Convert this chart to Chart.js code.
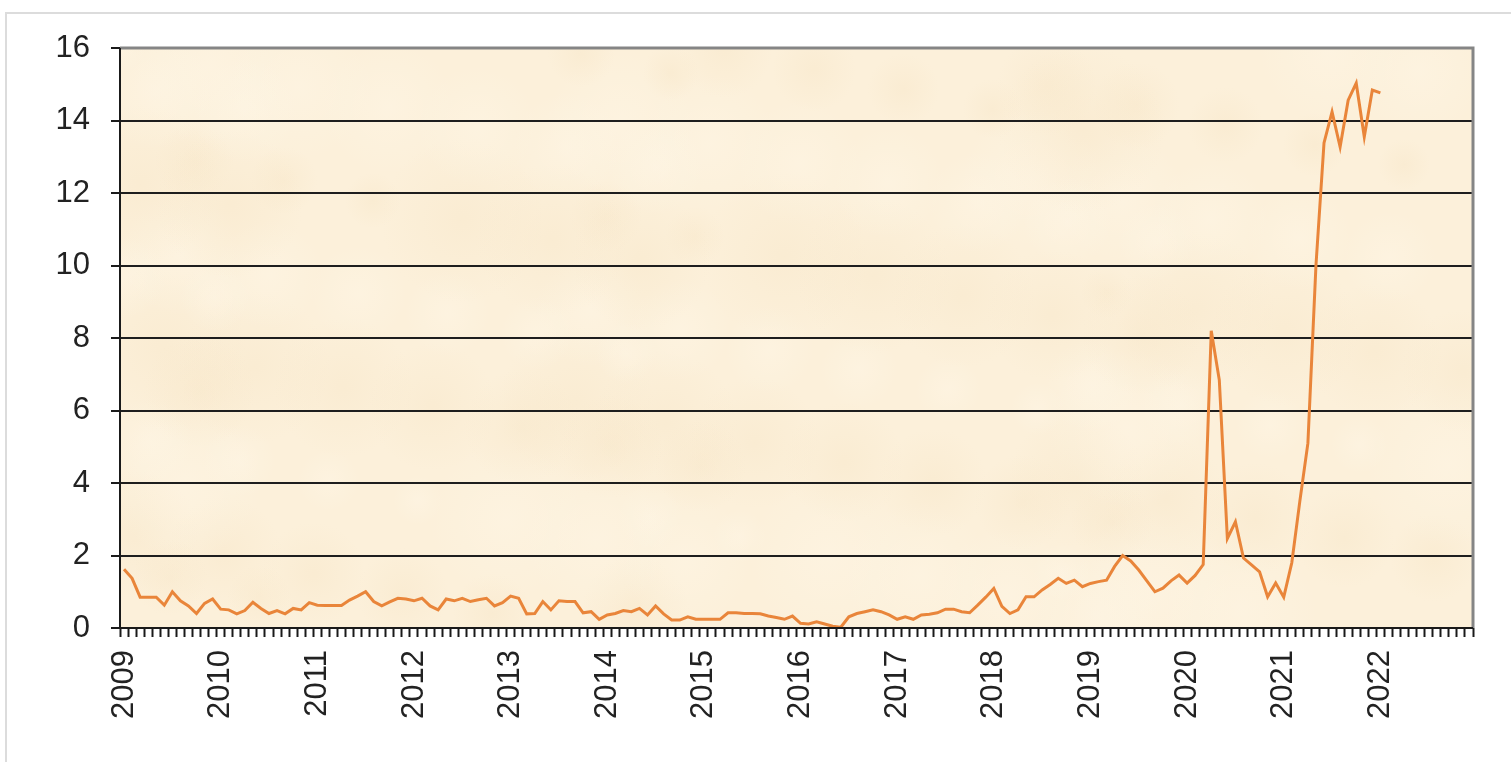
<!DOCTYPE html>
<html>
<head>
<meta charset="utf-8">
<script src="https://cdn.jsdelivr.net/npm/chart.js@4/dist/chart.umd.min.js"></script>
<style>
  html, body { margin: 0; padding: 0; background: #fff; }
  body { width: 1511px; height: 762px; overflow: hidden; position: relative; }
  #frame { position: absolute; left: 5px; top: 12px; width: 1520px; height: 770px; border: 2px solid #dcdcdc; box-sizing: border-box; }
  #wrap { position: absolute; left: 0; top: 0; width: 1511px; height: 762px; }
</style>
</head>
<body>
<div id="frame"></div>
<div id="wrap"><canvas id="chart" width="1511" height="762"></canvas></div>
<script>
// Years on the axis (one category per month, Jan 2009 - Dec 2022)
const years = [2009, 2010, 2011, 2012, 2013, 2014, 2015, 2016, 2017, 2018, 2019, 2020, 2021, 2022];
const monthsPerYear = 12;

// Monthly values, one row per year
const v2009 = [1.62, 1.37, 0.85, 0.85, 0.85, 0.63, 1.0, 0.75, 0.61, 0.4, 0.68, 0.8];
const v2010 = [0.52, 0.5, 0.39, 0.48, 0.71, 0.54, 0.4, 0.48, 0.39, 0.54, 0.5, 0.7];
const v2011 = [0.63, 0.62, 0.62, 0.62, 0.77, 0.88, 1.0, 0.73, 0.61, 0.72, 0.82, 0.8];
const v2012 = [0.75, 0.82, 0.61, 0.5, 0.8, 0.75, 0.82, 0.73, 0.78, 0.82, 0.61, 0.7];
const v2013 = [0.88, 0.82, 0.39, 0.4, 0.73, 0.5, 0.75, 0.73, 0.73, 0.42, 0.45, 0.24];
const v2014 = [0.36, 0.4, 0.48, 0.45, 0.54, 0.36, 0.61, 0.39, 0.22, 0.22, 0.31, 0.24];
const v2015 = [0.24, 0.24, 0.24, 0.42, 0.42, 0.4, 0.4, 0.39, 0.33, 0.29, 0.24, 0.33];
const v2016 = [0.13, 0.11, 0.17, 0.11, 0.05, 0.02, 0.31, 0.4, 0.45, 0.5, 0.45, 0.36];
const v2017 = [0.24, 0.31, 0.24, 0.36, 0.38, 0.42, 0.52, 0.52, 0.45, 0.42, 0.63, 0.85];
const v2018 = [1.09, 0.6, 0.4, 0.5, 0.86, 0.86, 1.05, 1.2, 1.37, 1.23, 1.32, 1.14];
const v2019 = [1.23, 1.28, 1.32, 1.7, 2.0, 1.85, 1.6, 1.3, 1.0, 1.1, 1.3, 1.46];
const v2020 = [1.24, 1.45, 1.75, 8.2, 6.84, 2.47, 2.93, 1.93, 1.74, 1.55, 0.86, 1.24];
const v2021 = [0.85, 1.8, 3.5, 5.1, 10.0, 13.38, 14.24, 13.27, 14.56, 15.03, 13.55, 14.84];
const v2022 = [14.76];

const series = [].concat(v2009, v2010, v2011, v2012, v2013, v2014, v2015,
  v2016, v2017, v2018, v2019, v2020, v2021, v2022);

// y axis
const yMin = 0, yMax = 16, yStep = 2;

const labels = [];
years.forEach(y => { for (let m = 0; m < monthsPerYear; m++) labels.push(m === 0 ? String(y) : ''); });

const FONT = 'Liberation Sans, Arial, sans-serif';

// parchment-like fill plus plot frame
const plotBackground = {
  id: 'plotBackground',
  beforeDraw(chart) {
    const { ctx, chartArea: a } = chart;
    ctx.save();
    ctx.fillStyle = '#fcf0da';
    ctx.fillRect(a.left, a.top, a.right - a.left, a.bottom - a.top);
    ctx.beginPath();
    ctx.rect(a.left, a.top, a.right - a.left, a.bottom - a.top);
    ctx.clip();
    const w = a.right - a.left, h = a.bottom - a.top;
    for (let i = 0; i < 120; i++) {
      const x = a.left + ((i * 337) % 1000) / 1000 * w;
      const y = a.top + ((i * 613) % 1000) / 1000 * h;
      const r = 25 + (i * 53) % 60;
      const g = ctx.createRadialGradient(x, y, 0, x, y, r);
      const c = i % 2 === 0 ? '255,248,234' : '246,228,196';
      g.addColorStop(0, 'rgba(' + c + ',0.35)');
      g.addColorStop(1, 'rgba(' + c + ',0)');
      ctx.fillStyle = g;
      ctx.fillRect(x - r, y - r, 2 * r, 2 * r);
    }
    ctx.restore();
  },
  afterDraw(chart) {
    const { ctx, chartArea: a } = chart;
    ctx.save();
    ctx.strokeStyle = '#858585';
    ctx.lineWidth = 3;
    ctx.beginPath();
    ctx.moveTo(a.left, a.top);
    ctx.lineTo(a.right, a.top);
    ctx.lineTo(a.right, a.bottom);
    ctx.stroke();
    ctx.strokeStyle = '#1a1a1a';
    ctx.lineWidth = 2;
    ctx.beginPath();
    ctx.moveTo(a.left, a.top);
    ctx.lineTo(a.left, a.bottom);
    ctx.lineTo(a.right, a.bottom);
    ctx.stroke();
    ctx.restore();
  }
};

new Chart(document.getElementById('chart'), {
  type: 'line',
  data: {
    labels: labels,
    datasets: [{
      data: series,
      borderColor: '#e9853a',
      borderWidth: 3,
      pointRadius: 0,
      tension: 0,
      fill: false
    }]
  },
  options: {
    responsive: false,
    animation: false,
    events: [],
    layout: { padding: { left: 0, top: 48, right: 38, bottom: 0 } },
    plugins: { legend: { display: false }, tooltip: { enabled: false } },
    scales: {
      x: {
        type: 'category',
        offset: true,
        afterFit: s => { s.height = 134; s.paddingLeft = 0; s.paddingRight = 0; },
        border: { display: false },
        grid: {
          offset: true,
          drawOnChartArea: false,
          drawTicks: true,
          tickLength: 9,
          tickColor: '#1a1a1a',
          tickWidth: 2
        },
        ticks: {
          autoSkip: false,
          minRotation: 90,
          maxRotation: 90,
          padding: 13,
          color: '#222',
          font: { family: FONT, size: 31 },
          callback: function (val, i) { return labels[i]; }
        }
      },
      y: {
        min: yMin,
        max: yMax,
        afterFit: s => { s.width = 120; s.paddingTop = 0; s.paddingBottom = 0; },
        border: { display: false },
        grid: {
          color: ctx => ctx.tick.value === yMax || ctx.tick.value === yMin ? 'rgba(0,0,0,0)' : '#1e1e1e',
          lineWidth: 2,
          tickLength: 9,
          tickColor: '#1a1a1a',
          tickWidth: 2
        },
        ticks: {
          stepSize: yStep,
          padding: 21,
          color: '#222',
          font: { family: FONT, size: 31 }
        }
      }
    }
  },
  plugins: [plotBackground]
});
</script>
</body>
</html>
